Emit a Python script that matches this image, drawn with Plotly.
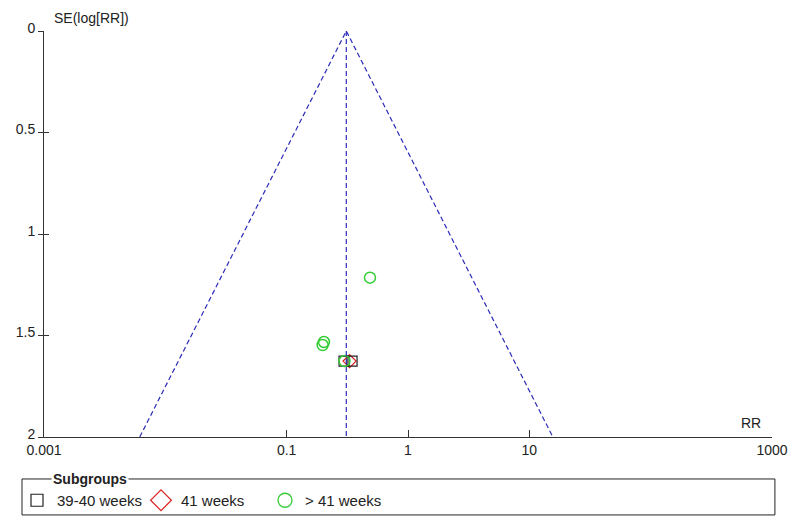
import numpy as np
import plotly.graph_objects as go

# Study estimates (RR and SE of log RR)
grp_a_rr = [0.297, 0.346]
grp_a_se = [1.626, 1.626]
grp_b_rr = [0.33]
grp_b_se = [1.626]
grp_c_rr = [0.486, 0.203, 0.198, 0.30]
grp_c_se = [1.215, 1.532, 1.547, 1.626]

pooled_rr = 0.31
se_max = 2.0

x_ticks = [0.001, 0.1, 1, 10, 1000]
x_tick_text = ["0.001", "0.1", "1", "10", "1000"]
y_ticks = [0, 0.5, 1, 1.5, 2]
y_tick_text = ["0", "0.5", "1", "1.5", "2"]

FONT = "Liberation Sans, Arial, sans-serif"
LINE_BLUE = "#2b2bb8"
INK = "#222222"

# the page body adds an 8px margin, so the figure is drawn 8px smaller
W, H = 784, 513

fig = go.Figure()

# funnel: pooled line and 95% limits
z = 1.96
lo = pooled_rr * np.exp(-z * se_max)
hi = pooled_rr * np.exp(z * se_max)
dash = dict(color=LINE_BLUE, width=1.2, dash="5px,3px")
fig.add_trace(go.Scatter(x=[lo, pooled_rr, hi], y=[se_max, 0, se_max], mode="lines",
                         line=dash, showlegend=False, hoverinfo="skip"))
# vertical line on the overlay axis (same range) so its crossing ticks get drawn
fig.add_trace(go.Scatter(x=[pooled_rr, pooled_rr], y=[0, se_max], mode="lines",
                         line=dash, showlegend=False, hoverinfo="skip", yaxis="y2"))

# study points (legend handled by the dummy traces below)
fig.add_trace(go.Scatter(x=grp_b_rr, y=grp_b_se, mode="markers", showlegend=False,
                         marker=dict(symbol="diamond-open", size=10, color="#dd2222",
                                     line=dict(width=1.2))))
fig.add_trace(go.Scatter(x=grp_a_rr, y=grp_a_se, mode="markers", showlegend=False,
                         marker=dict(symbol="square-open", size=10, color=INK,
                                     line=dict(width=1.2))))
fig.add_trace(go.Scatter(x=grp_c_rr, y=grp_c_se, mode="markers", showlegend=False,
                         marker=dict(symbol="circle-open", size=11, color="#33cc33",
                                     line=dict(width=1.5))))

# legend-only entries with the larger symbols of the original key
fig.add_trace(go.Scatter(x=[None], y=[None], mode="markers", name="39-40 weeks",
                         marker=dict(symbol="square-open", size=12, color=INK,
                                     line=dict(width=1.2))))
fig.add_trace(go.Scatter(x=[None], y=[None], mode="markers", name="41 weeks",
                         marker=dict(symbol="diamond-open", size=16, color="#dd2222",
                                     line=dict(width=1.2))))
fig.add_trace(go.Scatter(x=[None], y=[None], mode="markers", name="> 41 weeks",
                         marker=dict(symbol="circle-open", size=14, color="#33cc33",
                                     line=dict(width=1.3))))

fig.update_xaxes(
    type="log", range=[-3, 3], tickvals=x_ticks, ticktext=x_tick_text,
    showgrid=False, zeroline=False, showline=True, linecolor="#333333", linewidth=1,
    ticks="inside", ticklen=7, tickcolor="#333333",
    tickfont=dict(family=FONT, size=14, color=INK))
fig.update_yaxes(
    range=[2, 0], tickvals=y_ticks, ticktext=y_tick_text,
    showgrid=False, zeroline=False, showline=True, linecolor="#333333", linewidth=1,
    ticks="outside", ticklen=5, tickcolor="#333333", ticklabelshift=3,
    tickfont=dict(family=FONT, size=14, color=INK))

# legend frame with the title sitting on its top border
fig.add_shape(type="rect", xref="paper", yref="paper",
              x0=-0.0302, x1=1.004, y0=-0.192, y1=-0.1034,
              line=dict(color=INK, width=1))
fig.add_annotation(text="<b>Subgroups</b>", xref="paper", yref="paper",
                   x=0.0096, y=-0.1034, xanchor="left", yanchor="middle",
                   showarrow=False, bgcolor="white",
                   font=dict(family=FONT, size=14, color=INK))
fig.add_annotation(text="SE(log[RR])", xref="paper", yref="paper",
                   x=0.011, y=1.032, xanchor="left", yanchor="middle",
                   showarrow=False, font=dict(family=FONT, size=14, color=INK))
fig.add_annotation(text="RR", xref="paper", yref="paper",
                   x=0.9876, y=0.01, xanchor="right", yanchor="bottom",
                   showarrow=False, font=dict(family=FONT, size=14, color=INK))

fig.update_layout(
    width=W, height=H,
    margin=dict(l=36, r=20, t=23, b=84, autoexpand=False),
    plot_bgcolor="white", paper_bgcolor="white",
    showlegend=True,
    yaxis2=dict(overlaying="y", side="left", range=[2, 0], tickvals=y_ticks,
                showticklabels=False, showgrid=False, zeroline=False, showline=False,
                ticks="inside", ticklen=5, tickcolor="#333333"),
    legend=dict(orientation="h", xref="container", yref="container",
                x=9 / W, y=1 - 476 / H, xanchor="left", yanchor="top",
                entrywidth=79, entrywidthmode="pixels",
                bgcolor="rgba(0,0,0,0)", borderwidth=0,
                font=dict(family=FONT, size=15, color=INK)),
)

fig.write_html("out.html")
